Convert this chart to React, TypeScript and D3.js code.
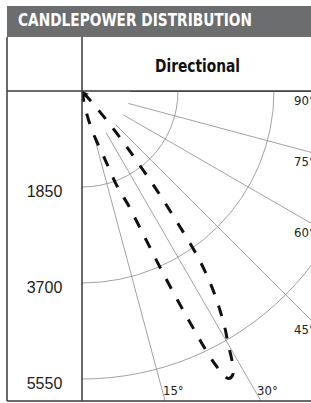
import { useEffect, useRef } from "react";
import * as d3 from "d3";

// candlepower rings (cd)
const ringValues = [1850, 3700, 5550];
const ringLabels = ["1850", "3700", "5550"];

// radial grid, degrees from nadir
const gridAngles = [15, 30, 45, 60, 75, 90];
const angleLabels = ["15°", "30°", "45°", "60°", "75°", "90°"];

// beam curve: angle from nadir (deg) and candela
const beamAngles = [8, 10, 12, 14, 16, 18, 19, 20, 21, 22, 23, 24, 25, 26, 27, 28, 29, 30, 31, 32, 33, 34, 35, 36, 37, 38, 39, 40, 41, 42];
const beamCandela = [0, 190, 480, 730, 980, 1270, 1500, 1890, 2120, 2350, 2890, 3850, 4910, 5880, 6220, 6190, 5970, 5630, 5360, 5050, 4720, 4340, 3850, 3080, 2410, 1730, 1250, 810, 390, 0];

const title = "CANDLEPOWER DISTRIBUTION";
const columnTitle = "Directional";

export default function App() {
  const svgRef = useRef<SVGSVGElement>(null);
  const width = 311;
  const height = 403;

  useEffect(() => {
    if (!svgRef.current) return;
    const svg = d3.select(svgRef.current);
    svg.selectAll("*").remove();

    const left = 7;
    const divX = 82;
    const headTop = 6;
    const headBottom = 37;
    const rowY = 91;
    const bottom = 401;
    const origin = { x: divX, y: rowY };

    const r = d3.scaleLinear().domain([0, 5550]).range([0, 288]);
    const rad = (deg: number) => (deg * Math.PI) / 180;
    const narrow = "'Liberation Sans Narrow', 'DejaVu Sans Condensed', 'Arial Narrow', sans-serif";

    svg.append("rect").attr("width", width).attr("height", height).attr("fill", "#fff");

    // header bar
    svg.append("rect")
      .attr("x", left)
      .attr("y", headTop)
      .attr("width", width - left)
      .attr("height", headBottom - headTop)
      .attr("fill", "#6c6d6f");
    svg.append("text")
      .attr("x", 18)
      .attr("y", 26)
      .attr("fill", "#fff")
      .style("font-family", narrow)
      .style("font-weight", "bold")
      .style("font-size", "18px")
      .attr("textLength", 234)
      .attr("lengthAdjust", "spacingAndGlyphs")
      .text(title);

    svg.append("text")
      .attr("x", (divX + width) / 2 + 1)
      .attr("y", 72)
      .attr("text-anchor", "middle")
      .attr("fill", "#111")
      .style("font-family", narrow)
      .style("font-weight", "bold")
      .style("font-size", "17px")
      .attr("textLength", 85)
      .attr("lengthAdjust", "spacingAndGlyphs")
      .text(columnTitle);

    // polar area
    svg.append("defs")
      .append("clipPath")
      .attr("id", "polar-clip")
      .append("rect")
      .attr("x", divX)
      .attr("y", rowY)
      .attr("width", width - divX)
      .attr("height", bottom - rowY);

    const g = svg.append("g").attr("clip-path", "url(#polar-clip)");
    const plot = g.append("g").attr("transform", `translate(${origin.x},${origin.y})`);

    // rings
    plot.selectAll(".ring")
      .data(ringValues)
      .enter()
      .append("circle")
      .attr("r", (d) => r(d))
      .attr("fill", "none")
      .attr("stroke", "#8c8c8c")
      .attr("stroke-width", 0.8);

    // radial lines, starting at half of first ring
    const inner = r(ringValues[0]) / 2;
    const outer = 500;
    plot.selectAll(".spoke")
      .data(gridAngles)
      .enter()
      .append("line")
      .attr("x1", (d) => inner * Math.sin(rad(d)))
      .attr("y1", (d) => inner * Math.cos(rad(d)))
      .attr("x2", (d) => outer * Math.sin(rad(d)))
      .attr("y2", (d) => outer * Math.cos(rad(d)))
      .attr("stroke", (d) => (d === 90 ? "#444" : "#8c8c8c"))
      .attr("stroke-width", (d) => (d === 90 ? 1.6 : 0.8));

    // beam curve
    const pts = beamAngles.map((a, i) => ({ a, v: beamCandela[i] }));
    const line = d3
      .lineRadial<{ a: number; v: number }>()
      .angle((d) => Math.PI - rad(d.a))
      .radius((d) => r(d.v))
      .curve(d3.curveCatmullRom.alpha(0.5));
    plot.append("path")
      .datum(pts)
      .attr("d", line)
      .attr("fill", "none")
      .attr("stroke", "#111")
      .attr("stroke-width", 3)
      .attr("stroke-dasharray", "11,12");

    // origin arrow
    svg.append("path")
      .attr("d", `M${origin.x},${origin.y} l7,3 l-3,1 l-1,3 z`)
      .attr("fill", "#111");

    // table lines
    const frame = svg.append("g").attr("stroke", "#3a3a3a").attr("stroke-width", 1.5);
    frame.append("line").attr("x1", left).attr("x2", left).attr("y1", headBottom).attr("y2", bottom);
    frame.append("line").attr("x1", divX).attr("x2", divX).attr("y1", headBottom).attr("y2", bottom);
    frame.append("line").attr("x1", left).attr("x2", width).attr("y1", rowY).attr("y2", rowY);
    frame.append("line").attr("x1", left).attr("x2", width).attr("y1", bottom).attr("y2", bottom);

    // ring labels
    svg.selectAll(".ring-label")
      .data(ringValues)
      .enter()
      .append("text")
      .attr("x", 44.5)
      .attr("y", (d) => origin.y + r(d) + 10)
      .attr("text-anchor", "middle")
      .attr("fill", "#222")
      .style("font-family", "'Liberation Sans', Arial, sans-serif")
      .style("font-size", "16px")
      .text((_d, i) => ringLabels[i]);

    // angle labels
    svg.selectAll(".angle-label")
      .data(gridAngles)
      .enter()
      .append("text")
      .attr("fill", "#222")
      .style("font-family", narrow)
      .style("font-size", "13px")
      .each(function (d, i) {
        const t = d3.select(this);
        const s = Math.sin(rad(d));
        const c = Math.cos(rad(d));
        const yRight = origin.y + ((width - origin.x) / s) * c;
        if (yRight <= bottom) {
          t.attr("x", 294).attr("y", yRight + 13.5);
        } else {
          const by = 395;
          t.attr("x", origin.x + ((by - origin.y) * s) / c - 0.5).attr("y", by);
        }
        t.text(angleLabels[i]);
      });
  }, []);

  return (
    <svg
      ref={svgRef}
      width={width}
      height={height}
      viewBox={`0 0 ${width} ${height}`}
      style={{ position: "absolute", left: 0, top: 0, display: "block" }}
    />
  );
}
